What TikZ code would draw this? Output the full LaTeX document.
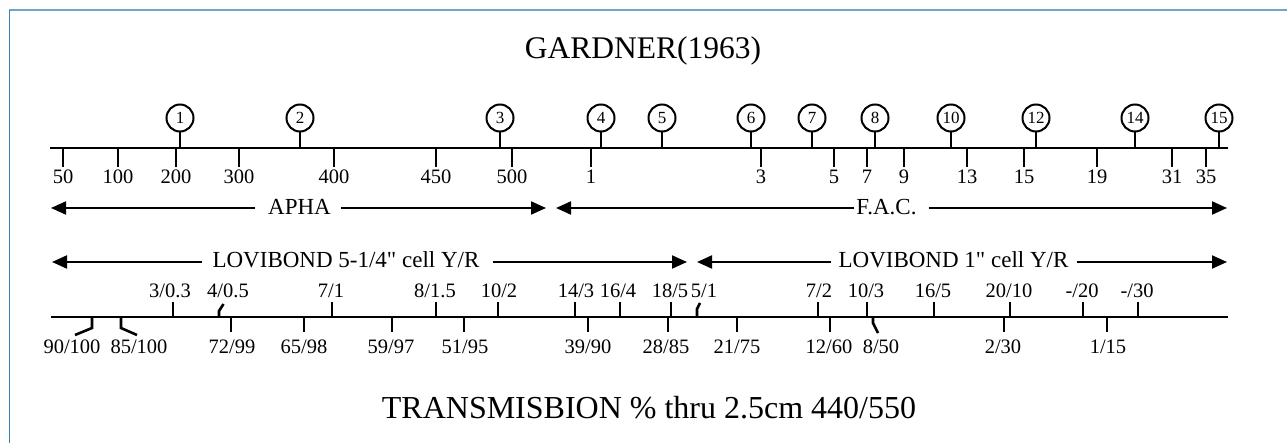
\documentclass[tikz,border=0pt]{standalone}
\usepackage{fontspec}
\setmainfont{Liberation Serif}[Ligatures=TeXOff]
\usetikzlibrary{arrows.meta}
\definecolor{frametop}{RGB}{110,168,200}
\definecolor{frameleft}{RGB}{60,130,180}
\newcommand\TopTick[3]{%
  \draw[tickline] (#2,148) -- (#2,167);
  \node[ticklab] (#1) at (#2,184) {#3};}
\newcommand\UpTick[4]{%
  \draw[tickline] (#2,317) -- (#2,302);
  \node[ticklab] (#1) at (#3,298) {#4};}
\newcommand\DnTick[4]{%
  \draw[tickline] (#2,317) -- (#2,332);
  \node[ticklab] (#1) at (#3,353) {#4};}
\newcommand\Marker[3]{%
  \node[marker] (#1) at (#2,118) {#3};
  \draw[tickline] (#1.south) -- (#2,148);}
\begin{document}
\begin{tikzpicture}[x=1pt,y=-1pt,
  axisline/.style={line width=2.6pt},
  tickline/.style={line width=2.6pt},
  marker/.style={circle, draw, line width=2pt, minimum size=27pt, inner sep=0pt, font=\fontsize{17}{17}\selectfont},
  ticklab/.style={anchor=base, inner sep=0pt, font=\fontsize{20.5}{24}\selectfont},
  arrowlab/.style={anchor=base, inner sep=0pt, font=\fontsize{23}{26}\selectfont},
  titletext/.style={anchor=base, inner sep=0pt, font=\fontsize{31.5}{36}\selectfont},
  bottomtext/.style={anchor=base, inner sep=0pt, font=\fontsize{32}{36}\selectfont},
  rangearrow/.style={line width=2pt, -{Triangle[length=15pt,width=13pt]}}]
\useasboundingbox (0,0) rectangle (1287,443);
% frame
\draw[frametop, line width=2pt] (9,10.5) -- (1287,10.5);
\draw[frameleft, line width=1.6pt] (9.5,10) -- (9.5,443);
% titles
\node[titletext] (title) at (643,59) {GARDNER(1963)};
\node[bottomtext] (bottom) at (649,418) {TRANSMISBION \% thru 2.5cm 440/550};
% top scale
\draw[axisline] (50,148) coordinate (a1s) -- (1228,148) coordinate (a1e);
\Marker{m1}{180}{1}
\Marker{m2}{300}{2}
\Marker{m3}{500}{3}
\Marker{m4}{601}{4}
\Marker{m5}{662}{5}
\Marker{m6}{751}{6}
\Marker{m7}{812}{7}
\Marker{m8}{875}{8}
\Marker{m10}{951}{10}
\Marker{m12}{1036}{12}
\Marker{m14}{1135}{14}
\Marker{m15}{1219}{15}
\TopTick{t50}{63}{50}
\TopTick{t100}{118}{100}
\TopTick{t200}{176}{200}
\TopTick{t300}{239}{300}
\TopTick{t400}{334}{400}
\TopTick{t450}{436}{450}
\TopTick{t500}{512}{500}
\TopTick{f1}{591}{1}
\TopTick{f3}{761}{3}
\TopTick{f5}{834}{5}
\TopTick{f7}{867}{7}
\TopTick{f9}{904}{9}
\TopTick{f13}{967}{13}
\TopTick{f15}{1024}{15}
\TopTick{f19}{1097}{19}
\TopTick{f31}{1172}{31}
\TopTick{f35}{1206}{35}
% range arrows row 1
\coordinate (aphaL) at (51,208);
\coordinate (aphaR) at (546,208);
\coordinate (facL) at (556,208);
\coordinate (facR) at (1227,208);
\node[arrowlab] (apha) at (299.5,215) {APHA};
\node[arrowlab] (fac) at (886.5,215) {F.A.C.};
\draw[rangearrow] ([xshift=-13pt]apha.west |- aphaL) -- (aphaL);
\draw[rangearrow] ([xshift=10pt]apha.east |- aphaR) -- (aphaR);
\draw[rangearrow] ([xshift=-2pt]fac.west |- facL) -- (facL);
\draw[rangearrow] ([xshift=12pt]fac.east |- facR) -- (facR);
% range arrows row 2
\coordinate (lovaL) at (52,262);
\coordinate (lovaR) at (687,262);
\coordinate (lovbL) at (697,262);
\coordinate (lovbR) at (1227,262);
\node[arrowlab] (lova) at (346,268) {LOVIBOND 5-1/4" cell Y/R};
\node[arrowlab] (lovb) at (953.5,268) {LOVIBOND 1" cell Y/R};
\draw[rangearrow] ([xshift=-10pt]lova.west |- lovaL) -- (lovaL);
\draw[rangearrow] ([xshift=13pt]lova.east |- lovaR) -- (lovaR);
\draw[rangearrow] ([xshift=-7pt]lovb.west |- lovbL) -- (lovbL);
\draw[rangearrow] ([xshift=8pt]lovb.east |- lovbR) -- (lovbR);
% bottom scale
\draw[axisline] (51,317) coordinate (a2s) -- (1228,317) coordinate (a2e);
\UpTick{u1}{173}{170}{3/0.3}
\draw[tickline] (219,317) -- (219,311) -- (223.5,304);
\node[ticklab] (u2) at (228,298) {4/0.5};
\UpTick{u3}{332}{331}{7/1}
\UpTick{u4}{436}{435}{8/1.5}
\UpTick{u5}{498}{499}{10/2}
\UpTick{u6}{575}{576}{14/3}
\UpTick{u7}{620}{618}{16/4}
\UpTick{u8}{671}{670}{18/5}
\draw[tickline] (697,317) -- (697,309) -- (700,303);
\node[ticklab] (u9) at (704,298) {5/1};
\UpTick{u10}{818}{819}{7/2}
\UpTick{u11}{867}{866}{10/3}
\UpTick{u12}{934}{933}{16/5}
\UpTick{u13}{1010}{1009}{20/10}
\UpTick{u14}{1083}{1082}{-/20}
\UpTick{u15}{1138}{1137}{-/30}
\draw[tickline] (92,317) -- (92,328) -- (75,335);
\node[ticklab] (d1) at (72,353) {90/100};
\draw[tickline] (121,317) -- (121,328) -- (137,335);
\node[ticklab] (d2) at (139,353) {85/100};
\DnTick{d3}{231}{232}{72/99}
\DnTick{d4}{304}{304}{65/98}
\DnTick{d5}{392}{391}{59/97}
\DnTick{d6}{464}{465}{51/95}
\DnTick{d7}{588}{588}{39/90}
\DnTick{d8}{668}{666}{28/85}
\DnTick{d9}{737}{737}{21/75}
\DnTick{d10}{830}{829}{12/60}
\draw[tickline] (873,317) -- (873,323) -- (878,333);
\node[ticklab] (d11) at (881,353) {8/50};
\DnTick{d12}{1004}{1003}{2/30}
\DnTick{d13}{1107}{1108}{1/15}
\end{tikzpicture}
\end{document}
